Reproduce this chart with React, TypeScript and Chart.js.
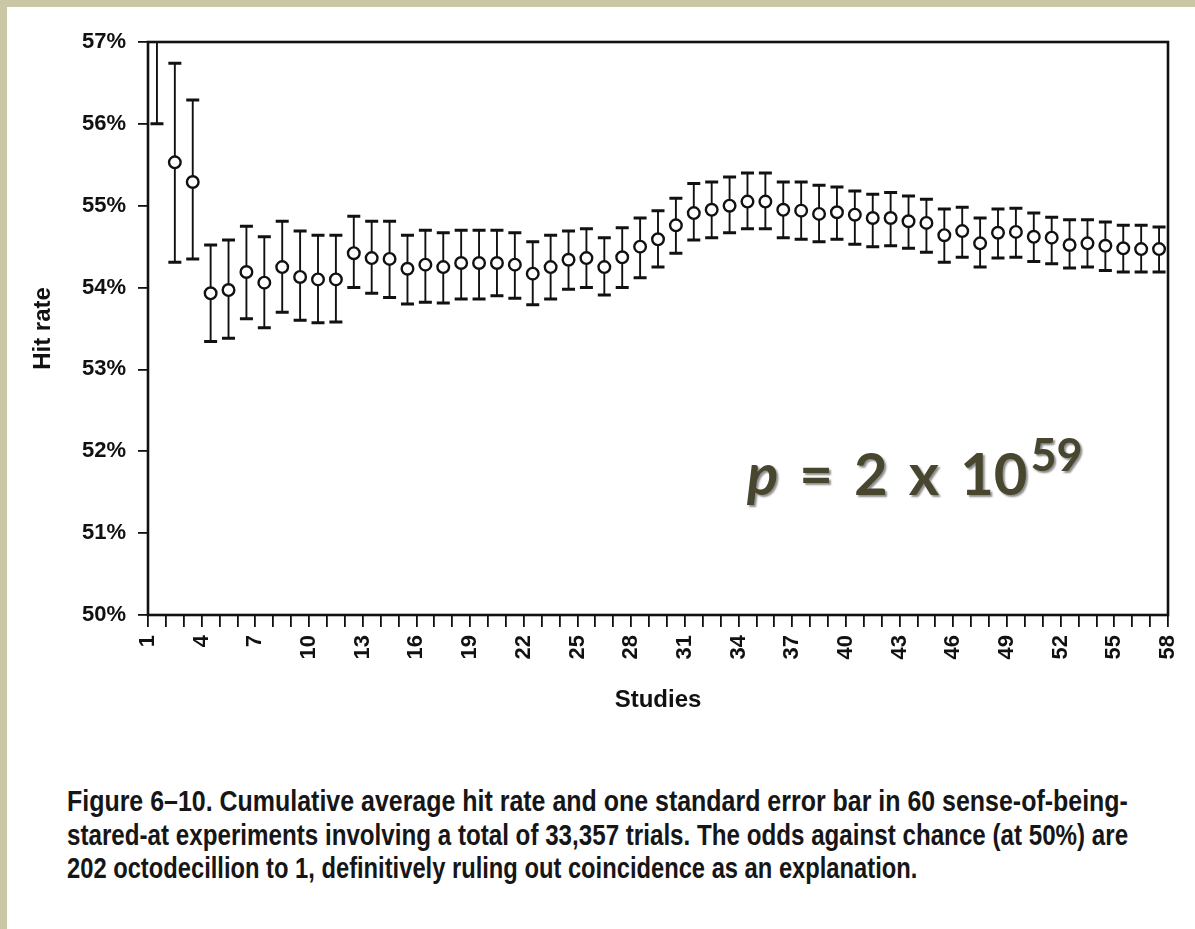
import React, { useEffect, useLayoutEffect, useRef } from 'react';
import { Chart, registerables } from 'chart.js';

Chart.register(...registerables);

// ---------- data ----------
const studies = [
  1, 2, 3, 4, 5, 6, 7, 8, 9, 10, 11, 12, 13, 14, 15, 16, 17, 18, 19, 20,
  21, 22, 23, 24, 25, 26, 27, 28, 29, 30, 31, 32, 33, 34, 35, 36, 37, 38, 39, 40,
  41, 42, 43, 44, 45, 46, 47, 48, 49, 50, 51, 52, 53, 54, 55, 56, 57,
];

const hitRate = [
  57.8, 55.53, 55.29, 53.93, 53.97, 54.19, 54.06, 54.25, 54.13, 54.1,
  54.1, 54.42, 54.36, 54.35, 54.23, 54.28, 54.25, 54.3, 54.3, 54.3,
  54.28, 54.17, 54.25, 54.34, 54.36, 54.25, 54.37, 54.5, 54.59, 54.76,
  54.91, 54.95, 55.0, 55.05, 55.05, 54.95, 54.94, 54.9, 54.92, 54.89,
  54.85, 54.85, 54.81, 54.79, 54.64, 54.69, 54.54, 54.67, 54.68, 54.62,
  54.61, 54.52, 54.54, 54.51, 54.48, 54.47, 54.47,
];

const upperBound = [
  59.6, 56.74, 56.29, 54.52, 54.58, 54.75, 54.62, 54.81, 54.69, 54.64,
  54.64, 54.87, 54.81, 54.81, 54.64, 54.7, 54.67, 54.7, 54.7, 54.7,
  54.67, 54.56, 54.64, 54.69, 54.72, 54.61, 54.73, 54.85, 54.94, 55.09,
  55.27, 55.29, 55.35, 55.4, 55.4, 55.29, 55.29, 55.25, 55.23, 55.18,
  55.14, 55.16, 55.12, 55.08, 54.96, 54.98, 54.85, 54.96, 54.97, 54.91,
  54.86, 54.83, 54.83, 54.8, 54.76, 54.76, 54.74,
];

const lowerBound = [
  56.0, 54.31, 54.35, 53.34, 53.38, 53.62, 53.51, 53.7, 53.6, 53.57,
  53.58, 54.0, 53.93, 53.88, 53.8, 53.82, 53.81, 53.86, 53.86, 53.9,
  53.87, 53.79, 53.86, 53.98, 54.0, 53.91, 54.0, 54.12, 54.25, 54.42,
  54.58, 54.61, 54.67, 54.72, 54.72, 54.61, 54.59, 54.56, 54.59, 54.53,
  54.5, 54.51, 54.48, 54.43, 54.31, 54.37, 54.25, 54.36, 54.37, 54.32,
  54.29, 54.24, 54.25, 54.21, 54.19, 54.19, 54.19,
];

const xTickLabels = [
  '1', '4', '7', '10', '13', '16', '19', '22', '25', '28',
  '31', '34', '37', '40', '43', '46', '49', '52', '55', '58',
];

const yMin = 50;
const yMax = 57;
const xTitle = 'Studies';
const yTitle = 'Hit rate';

const captionLines = [
  'Figure 6–10. Cumulative average hit rate and one standard error bar in 60 sense-of-being-',
  'stared-at experiments involving a total of 33,357 trials. The odds against chance (at 50%) are',
  '202 octodecillion to 1, definitively ruling out coincidence as an explanation.',
];
const captionWidths = [1061, 1061, 850];

// ---------- styling ----------
const INK = '#111111';
const TICK_FONT = "'Liberation Sans', Arial, sans-serif";
const CANVAS_W = 1195;
const CANVAS_H = 740;

const errorBarPlugin = {
  id: 'errorBars',
  beforeDatasetsDraw(chart: any) {
    const { ctx, chartArea, scales } = chart;
    const xs = scales.x;
    const ys = scales.y;
    ctx.save();
    ctx.beginPath();
    ctx.rect(chartArea.left, chartArea.top, chartArea.right - chartArea.left, chartArea.bottom - chartArea.top);
    ctx.clip();
    ctx.strokeStyle = INK;
    studies.forEach((s, i) => {
      const px = xs.getPixelForValue(s);
      const yl = ys.getPixelForValue(lowerBound[i]);
      const yh = ys.getPixelForValue(upperBound[i]);
      ctx.lineWidth = 1.9;
      ctx.beginPath();
      ctx.moveTo(px, yl);
      ctx.lineTo(px, yh);
      ctx.stroke();
      ctx.lineWidth = 3;
      ctx.beginPath();
      ctx.moveTo(px - 6.5, yl);
      ctx.lineTo(px + 6.5, yl);
      ctx.moveTo(px - 6.5, yh);
      ctx.lineTo(px + 6.5, yh);
      ctx.stroke();
    });
    ctx.restore();
  },
};

const framePlugin = {
  id: 'frame',
  afterDraw(chart: any) {
    const { ctx, chartArea } = chart;
    ctx.save();
    ctx.strokeStyle = INK;
    ctx.lineWidth = 2.6;
    ctx.strokeRect(chartArea.left, chartArea.top, chartArea.right - chartArea.left, chartArea.bottom - chartArea.top);
    ctx.restore();
  },
};

function HitRateChart() {
  const ref = useRef<HTMLCanvasElement | null>(null);
  useEffect(() => {
    if (!ref.current) return;
    const boundaries = [...studies.map((s) => s - 0.5), studies[studies.length - 1] + 0.5];
    const chart = new Chart(ref.current, {
      type: 'scatter',
      data: {
        datasets: [
          {
            data: studies.map((s, i) => ({ x: s, y: hitRate[i] })),
            pointRadius: 5.8,
            pointHoverRadius: 5.8,
            pointBackgroundColor: '#ffffff',
            pointBorderColor: INK,
            pointBorderWidth: 2.4,
            showLine: false,
            clip: 0,
          } as any,
        ],
      },
      options: {
        responsive: false,
        animation: false,
        devicePixelRatio: 1,
        layout: { padding: { top: 42, right: CANVAS_W - 1168, left: 0, bottom: 0 } },
        plugins: { legend: { display: false }, tooltip: { enabled: false } },
        scales: {
          x: {
            type: 'linear',
            min: studies[0] - 0.5,
            max: studies[studies.length - 1] + 0.5,
            afterFit: (s: any) => {
              s.height = CANVAS_H - 615;
              s.paddingLeft = 0;
              s.paddingRight = 0;
            },
            afterBuildTicks: (s: any) => {
              s.ticks = boundaries.map((v) => ({ value: v }));
            },
            ticks: {
              autoSkip: false,
              minRotation: 90,
              maxRotation: 90,
              padding: 8,
              color: INK,
              font: { family: TICK_FONT, size: 22, weight: 'bold' },
              callback: (v: any) => {
                const lab = String(Math.round(Number(v) + 0.5));
                return xTickLabels.includes(lab) ? lab : '';
              },
            },
            grid: { drawOnChartArea: false, drawTicks: true, tickLength: 12, color: INK, lineWidth: 1.8 },
            border: { display: false },
            title: {
              display: true,
              text: xTitle,
              color: INK,
              font: { family: TICK_FONT, size: 24, weight: 'bold' },
              padding: { top: 0, bottom: 25 },
            },
          },
          y: {
            min: yMin,
            max: yMax,
            afterFit: (s: any) => {
              s.width = 148;
              s.paddingTop = 0;
              s.paddingBottom = 0;
            },
            ticks: {
              stepSize: 1,
              padding: 12,
              color: INK,
              font: { family: TICK_FONT, size: 22, weight: 'bold' },
              callback: (v: any) => `${v}%`,
            },
            grid: { drawOnChartArea: false, drawTicks: true, tickLength: 10, color: INK, lineWidth: 1.8 },
            border: { display: false },
            title: {
              display: true,
              text: yTitle,
              color: INK,
              font: { family: TICK_FONT, size: 24, weight: 'bold' },
              padding: { top: 29, bottom: 0 },
            },
          },
        },
      } as any,
      plugins: [errorBarPlugin, framePlugin],
    });
    return () => chart.destroy();
  }, []);
  return (
    <canvas
      ref={ref}
      width={CANVAS_W}
      height={CANVAS_H}
      style={{ position: 'absolute', left: 0, top: 0, width: CANVAS_W, height: CANVAS_H }}
    />
  );
}

export default function App() {
  const capRefs = useRef<(HTMLSpanElement | null)[]>([]);
  useLayoutEffect(() => {
    capRefs.current.forEach((el, i) => {
      if (!el) return;
      const k = captionWidths[i] / el.offsetWidth;
      el.style.transform = `scaleX(${k})`;
    });
  }, []);

  return (
    <div
      style={{
        position: 'absolute',
        left: 0,
        top: 0,
        width: 1195,
        height: 929,
        overflow: 'hidden',
        background: '#c9c7a6',
      }}
    >
      <div style={{ position: 'absolute', left: 7, top: 7, right: 0, bottom: 0, background: '#ffffff' }} />
      <HitRateChart />
      <div
        style={{
          position: 'absolute',
          left: 747,
          top: 444,
          fontFamily: "Lato, 'Open Sans', sans-serif",
          fontWeight: 700,
          fontSize: 58,
          lineHeight: '58px',
          wordSpacing: 7,
          color: '#48462f',
          whiteSpace: 'nowrap',
          textShadow: '2px 2px 2px rgba(0,0,0,0.45)',
        }}
      >
        <i>p</i> = 2 x 10
        <span style={{ fontSize: 45, position: 'relative', top: -24, marginLeft: 3 }}>59</span>
      </div>
      {captionLines.map((line, i) => (
        <div
          key={i}
          style={{
            position: 'absolute',
            left: 67,
            top: 786 + i * 33.5,
            whiteSpace: 'nowrap',
            fontFamily: "'Liberation Sans Narrow', 'Liberation Sans', Arial, sans-serif",
            fontWeight: 700,
            fontSize: 29,
            lineHeight: '30px',
            color: '#161616',
          }}
        >
          <span
            ref={(el) => {
              capRefs.current[i] = el;
            }}
            style={{ display: 'inline-block', transformOrigin: 'left center' }}
          >
            {line}
          </span>
        </div>
      ))}
    </div>
  );
}
